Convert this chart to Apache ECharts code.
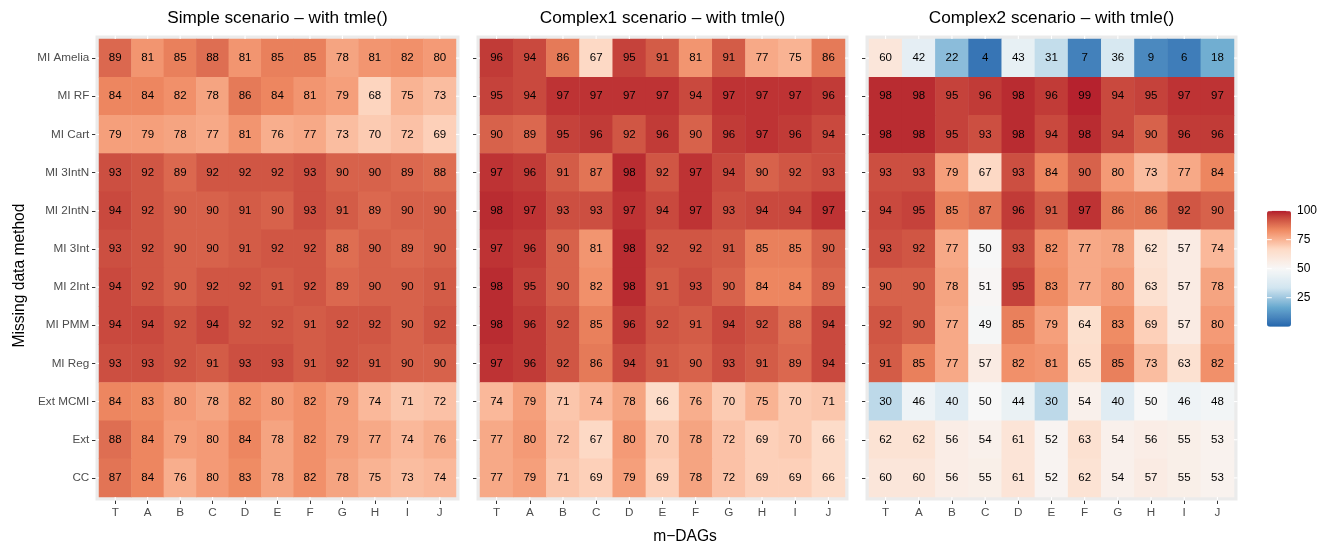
<!DOCTYPE html>
<html>
<head>
<meta charset="utf-8">
<script src="https://cdn.jsdelivr.net/npm/echarts@6/dist/echarts.min.js"></script>
<style>
  html, body { margin: 0; padding: 0; background: #ffffff; }
  #chart { width: 1332px; height: 546px; }
</style>
</head>
<body>
<div id="chart"></div>
<script>
// ---------------- DATA ----------------
const mdags = ['T', 'A', 'B', 'C', 'D', 'E', 'F', 'G', 'H', 'I', 'J'];
const methods = ['MI Amelia', 'MI RF', 'MI Cart', 'MI 3IntN', 'MI 2IntN', 'MI 3Int',
                 'MI 2Int', 'MI PMM', 'MI Reg', 'Ext MCMI', 'Ext', 'CC'];
const panelTitles = ['Simple scenario \u2013 with tmle()', 'Complex1 scenario \u2013 with tmle()', 'Complex2 scenario \u2013 with tmle()'];
const legendTicks = [25, 50, 75, 100];

// rows follow `methods`, columns follow `mdags`
const simpleValues = [
  [89, 81, 85, 88, 81, 85, 85, 78, 81, 82, 80],
  [84, 84, 82, 78, 86, 84, 81, 79, 68, 75, 73],
  [79, 79, 78, 77, 81, 76, 77, 73, 70, 72, 69],
  [93, 92, 89, 92, 92, 92, 93, 90, 90, 89, 88],
  [94, 92, 90, 90, 91, 90, 93, 91, 89, 90, 90],
  [93, 92, 90, 90, 91, 92, 92, 88, 90, 89, 90],
  [94, 92, 90, 92, 92, 91, 92, 89, 90, 90, 91],
  [94, 94, 92, 94, 92, 92, 91, 92, 92, 90, 92],
  [93, 93, 92, 91, 93, 93, 91, 92, 91, 90, 90],
  [84, 83, 80, 78, 82, 80, 82, 79, 74, 71, 72],
  [88, 84, 79, 80, 84, 78, 82, 79, 77, 74, 76],
  [87, 84, 76, 80, 83, 78, 82, 78, 75, 73, 74]
];
const complex1Values = [
  [96, 94, 86, 67, 95, 91, 81, 91, 77, 75, 86],
  [95, 94, 97, 97, 97, 97, 94, 97, 97, 97, 96],
  [90, 89, 95, 96, 92, 96, 90, 96, 97, 96, 94],
  [97, 96, 91, 87, 98, 92, 97, 94, 90, 92, 93],
  [98, 97, 93, 93, 97, 94, 97, 93, 94, 94, 97],
  [97, 96, 90, 81, 98, 92, 92, 91, 85, 85, 90],
  [98, 95, 90, 82, 98, 91, 93, 90, 84, 84, 89],
  [98, 96, 92, 85, 96, 92, 91, 94, 92, 88, 94],
  [97, 96, 92, 86, 94, 91, 90, 93, 91, 89, 94],
  [74, 79, 71, 74, 78, 66, 76, 70, 75, 70, 71],
  [77, 80, 72, 67, 80, 70, 78, 72, 69, 70, 66],
  [77, 79, 71, 69, 79, 69, 78, 72, 69, 69, 66]
];
const complex2Values = [
  [60, 42, 22, 4, 43, 31, 7, 36, 9, 6, 18],
  [98, 98, 95, 96, 98, 96, 99, 94, 95, 97, 97],
  [98, 98, 95, 93, 98, 94, 98, 94, 90, 96, 96],
  [93, 93, 79, 67, 93, 84, 90, 80, 73, 77, 84],
  [94, 95, 85, 87, 96, 91, 97, 86, 86, 92, 90],
  [93, 92, 77, 50, 93, 82, 77, 78, 62, 57, 74],
  [90, 90, 78, 51, 95, 83, 77, 80, 63, 57, 78],
  [92, 90, 77, 49, 85, 79, 64, 83, 69, 57, 80],
  [91, 85, 77, 57, 82, 81, 65, 85, 73, 63, 82],
  [30, 46, 40, 50, 44, 30, 54, 40, 50, 46, 48],
  [62, 62, 56, 54, 61, 52, 63, 54, 56, 55, 53],
  [60, 60, 56, 55, 61, 52, 62, 54, 57, 55, 53]
];

// ---------------- LAYOUT / STYLE ----------------
const FONT = '"Liberation Sans", Arial, Helvetica, sans-serif';
const paletteStops = ['#2166AC', '#67A9CF', '#D1E5F0', '#F7F7F7', '#FDDBC7', '#EF8A62', '#B2182B'];
const panels = [
  { left: 99, width: 357, values: simpleValues, showLabels: true },
  { left: 480, width: 365, values: complex1Values, showLabels: false },
  { left: 869, width: 365, values: complex2Values, showLabels: false }
];
const gridTop = 39, gridHeight = 458, margin = 3.5;
const bar = { left: 1267, top: 210.7, width: 24, height: 116, min: 0, max: 100 };

// --- Lab interpolation of the palette (like ggplot's gradientn) ---
function hex2rgb(h) { return [1, 3, 5].map(i => parseInt(h.substr(i, 2), 16)); }
function srgb2lin(c) { c /= 255; return c <= 0.04045 ? c / 12.92 : Math.pow((c + 0.055) / 1.055, 2.4); }
function lin2srgb(c) { c = c <= 0.0031308 ? 12.92 * c : 1.055 * Math.pow(c, 1 / 2.4) - 0.055; return Math.max(0, Math.min(255, Math.round(c * 255))); }
const WHITE = [0.95047, 1.0, 1.08883];
function rgb2lab(rgb) {
  const [r, g, b] = rgb.map(srgb2lin);
  const x = (0.4124564 * r + 0.3575761 * g + 0.1804375 * b) / WHITE[0];
  const y = (0.2126729 * r + 0.7151522 * g + 0.0721750 * b) / WHITE[1];
  const z = (0.0193339 * r + 0.1191920 * g + 0.9503041 * b) / WHITE[2];
  const f = t => t > 216 / 24389 ? Math.cbrt(t) : (24389 / 27 * t + 16) / 116;
  const fx = f(x), fy = f(y), fz = f(z);
  return [116 * fy - 16, 500 * (fx - fy), 200 * (fy - fz)];
}
function lab2hex(lab) {
  const fy = (lab[0] + 16) / 116, fx = fy + lab[1] / 500, fz = fy - lab[2] / 200;
  const inv = t => t * t * t > 216 / 24389 ? t * t * t : (116 * t - 16) / (24389 / 27);
  const x = inv(fx) * WHITE[0], y = inv(fy) * WHITE[1], z = inv(fz) * WHITE[2];
  const r = 3.2404542 * x - 1.5371385 * y - 0.4985314 * z;
  const g = -0.9692660 * x + 1.8760108 * y + 0.0415560 * z;
  const b = 0.0556434 * x - 0.2040259 * y + 1.0572252 * z;
  return '#' + [r, g, b].map(lin2srgb).map(v => v.toString(16).padStart(2, '0')).join('');
}
function labRamp(stops, n) {
  const labs = stops.map(s => rgb2lab(hex2rgb(s)));
  const out = [];
  for (let i = 0; i < n; i++) {
    const t = i / (n - 1) * (labs.length - 1);
    const k = Math.min(Math.floor(t), labs.length - 2), u = t - k;
    out.push(lab2hex(labs[k].map((v, j) => v + (labs[k + 1][j] - v) * u)));
  }
  return out;
}
const palette = labRamp(paletteStops, 61);

function toData(values) {
  const out = [];
  values.forEach((row, r) => row.forEach((v, c) => out.push([c, r, v])));
  return out;
}

const grids = [], xAxes = [], yAxes = [], series = [], graphics = [];
panels.forEach((p, i) => {
  grids.push({
    left: p.left, top: gridTop, width: p.width, height: gridHeight,
    show: true, backgroundColor: '#EBEBEB', borderColor: '#EBEBEB', borderWidth: margin * 2
  });
  xAxes.push({
    type: 'category', gridIndex: i, data: mdags, position: 'bottom', offset: margin,
    axisLine: { show: false },
    axisTick: { show: true, alignWithLabel: true, length: 3.5, lineStyle: { color: '#333333', width: 1 } },
    axisLabel: { color: '#4D4D4D', fontSize: 11.7, fontFamily: FONT, margin: 6.5 },
    splitLine: { show: false }
  });
  yAxes.push({
    type: 'category', gridIndex: i, data: methods, inverse: true, offset: margin,
    axisLine: { show: false },
    axisTick: { show: true, alignWithLabel: true, length: 3.5, lineStyle: { color: '#333333', width: 1 } },
    axisLabel: { show: p.showLabels, color: '#4D4D4D', fontSize: 11.7, fontFamily: FONT, margin: 6.2 },
    splitLine: { show: false }
  });
  series.push({
    type: 'heatmap', xAxisIndex: i, yAxisIndex: i, data: toData(p.values),
    label: { show: true, formatter: (d) => d.value[2], color: '#000000', fontSize: 11.5, fontFamily: FONT },
    itemStyle: { borderWidth: 0 },
    emphasis: { disabled: true }
  });
  graphics.push({
    type: 'text', x: p.left + p.width / 2, y: 18.5,
    style: { text: panelTitles[i], fill: '#000000', font: '17.2px ' + FONT, textAlign: 'center', textVerticalAlign: 'middle' }
  });
});

// axis titles
graphics.push({
  type: 'text', x: 685, y: 536.5,
  style: { text: 'm\u2212DAGs', fill: '#000000', font: '15.6px ' + FONT, textAlign: 'center', textVerticalAlign: 'middle' }
});
graphics.push({
  type: 'text', x: 19.5, y: 275.5, rotation: Math.PI / 2,
  style: { text: 'Missing data method', fill: '#000000', font: '15.6px ' + FONT, textAlign: 'center', textVerticalAlign: 'middle' }
});

// legend tick labels and white tick marks
legendTicks.forEach((t) => {
  const y = bar.top + (bar.max - t) / (bar.max - bar.min) * bar.height;
  graphics.push({
    type: 'text', x: bar.left + bar.width + 6, y: y,
    style: { text: String(t), fill: '#000000', font: '12px ' + FONT, textAlign: 'left', textVerticalAlign: 'middle' },
    z: 100
  });
  graphics.push({ type: 'line', shape: { x1: bar.left, y1: y, x2: bar.left + 4.8, y2: y }, style: { stroke: '#ffffff', lineWidth: 1 }, z: 100 });
  graphics.push({ type: 'line', shape: { x1: bar.left + bar.width - 4.8, y1: y, x2: bar.left + bar.width, y2: y }, style: { stroke: '#ffffff', lineWidth: 1 }, z: 100 });
});

const chart = echarts.init(document.getElementById('chart'), null, { renderer: 'canvas' });
const option = {
  animation: false,
  backgroundColor: '#ffffff',
  textStyle: { fontFamily: FONT },
  grid: grids,
  xAxis: xAxes,
  yAxis: yAxes,
  visualMap: {
    type: 'continuous', min: bar.min, max: bar.max, seriesIndex: [0, 1, 2],
    orient: 'vertical', left: bar.left, top: bar.top,
    itemWidth: bar.width, itemHeight: bar.height,
    calculable: false, realtime: false, hoverLink: false,
    text: null, showLabel: false, padding: 0,
    inRange: { color: palette }
  },
  series: series,
  graphic: graphics
};
chart.setOption(option);

// white panel grid lines visible in the grey panel margins (computed through the axes)
const gridLines = [];
panels.forEach((p, i) => {
  const x0 = p.left, x1 = p.left + p.width, y0 = gridTop, y1 = gridTop + gridHeight;
  mdags.forEach((m) => {
    const px = chart.convertToPixel({ xAxisIndex: i }, m);
    gridLines.push({ type: 'line', z: 50, shape: { x1: px, y1: y0 - margin, x2: px, y2: y0 }, style: { stroke: '#ffffff', lineWidth: 1.1 } });
    gridLines.push({ type: 'line', z: 50, shape: { x1: px, y1: y1, x2: px, y2: y1 + margin }, style: { stroke: '#ffffff', lineWidth: 1.1 } });
  });
  methods.forEach((m) => {
    const py = chart.convertToPixel({ yAxisIndex: i }, m);
    gridLines.push({ type: 'line', z: 50, shape: { x1: x0 - margin, y1: py, x2: x0, y2: py }, style: { stroke: '#ffffff', lineWidth: 1.1 } });
    gridLines.push({ type: 'line', z: 50, shape: { x1: x1, y1: py, x2: x1 + margin, y2: py }, style: { stroke: '#ffffff', lineWidth: 1.1 } });
  });
});
chart.setOption({ graphic: graphics.concat(gridLines) });
</script>
</body>
</html>
